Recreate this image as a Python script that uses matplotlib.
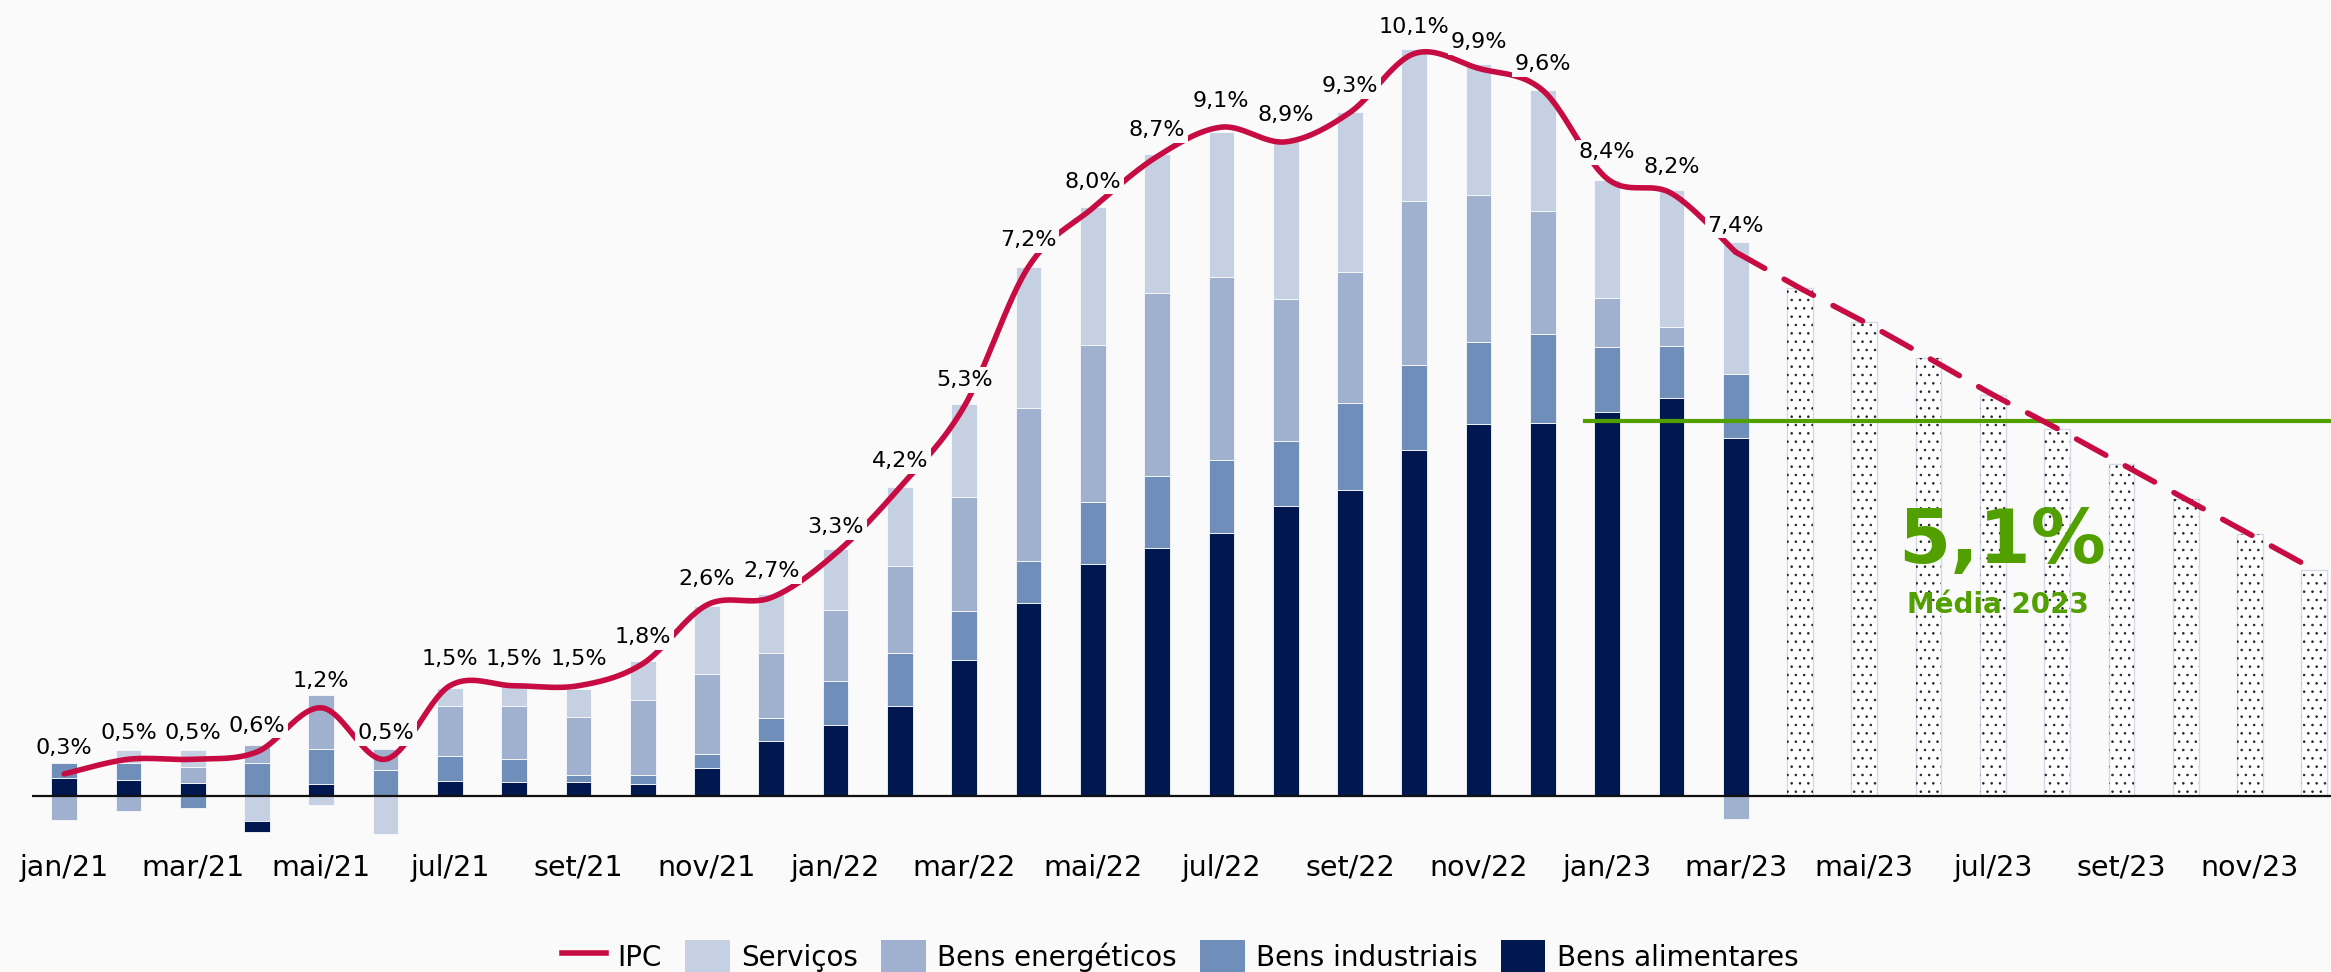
import numpy as np
import matplotlib
matplotlib.use("Agg")
import matplotlib.pyplot as plt
from matplotlib.patches import Patch
from matplotlib.lines import Line2D

# ---------------- data ----------------
month_names = ['jan', 'fev', 'mar', 'abr', 'mai', 'jun', 'jul', 'ago', 'set', 'out', 'nov', 'dez']
years = ['21', '22', '23']
periods = [f'{m}/{y}' for y in years for m in month_names]

# IPC, year-on-year rate (%), jan/21 .. mar/23
ipc = [0.3, 0.5, 0.5, 0.6, 1.2, 0.5, 1.5, 1.5, 1.5, 1.8, 2.6, 2.7,
       3.3, 4.2, 5.3, 7.2, 8.0, 8.7, 9.1, 8.9, 9.3, 10.1, 9.9, 9.6,
       8.4, 8.2, 7.4]

# contributions (p.p.)
alimentares = [0.25, 0.22, 0.18, -0.145, 0.17, 0.0, 0.20, 0.19, 0.19, 0.16, 0.38, 0.75,
               0.97, 1.22, 1.85, 2.62, 3.16, 3.38, 3.58, 3.94, 4.17, 4.71, 5.06, 5.08,
               5.23, 5.41, 4.87]
industriais = [0.20, 0.23, -0.17, 0.45, 0.47, 0.35, 0.34, 0.31, 0.09, 0.12, 0.19, 0.31,
               0.59, 0.73, 0.67, 0.58, 0.84, 0.97, 0.99, 0.89, 1.18, 1.15, 1.12, 1.21,
               0.88, 0.71, 0.87]
energeticos = [-0.33, -0.21, 0.22, 0.25, 0.73, 0.29, 0.68, 0.73, 0.80, 1.03, 1.09, 0.88,
               0.97, 1.18, 1.55, 2.08, 2.13, 2.49, 2.49, 1.93, 1.78, 2.23, 2.00, 1.67,
               0.66, 0.26, -0.31]
servicos = [0.0, 0.18, 0.23, -0.34, -0.12, -0.52, 0.245, 0.29, 0.38, 0.52, 0.93, 0.81,
            0.83, 1.07, 1.26, 1.92, 1.88, 1.90, 1.98, 2.18, 2.17, 2.08, 1.78, 1.64,
            1.61, 1.87, 1.80]

# projection abr/23 .. dez/23
forecast = [6.91, 6.45, 5.96, 5.46, 5.00, 4.52, 4.04, 3.56, 3.08]

media_2023 = 5.1
media_label = '5,1%'
media_sub = 'Média 2023'

legend_labels = ['IPC', 'Serviços', 'Bens energéticos', 'Bens industriais', 'Bens alimentares']

# ---------------- style ----------------
BG = '#FAFAFA'
C_SERV = '#C5D0E3'
C_ENE = '#9FB1CF'
C_IND = '#6F8EBA'
C_ALIM = '#001850'
RED = '#C60C42'
GREEN = '#52A000'

plt.rcParams['font.family'] = ['DejaVu Sans']
plt.rcParams['hatch.linewidth'] = 0.6

W, H = 2331, 972
fig = plt.figure(figsize=(W / 100, H / 100), dpi=100, facecolor=BG)
ax = fig.add_axes([32 / W, 132 / H, (W - 32) / W, 840 / H], facecolor=BG)

PX_PER_UNIT = 73.5
ax.set_xlim(-0.5, 35.26)
ax.set_ylim(-44 / PX_PER_UNIT, 796 / PX_PER_UNIT)

n = len(ipc)
x_hist = np.arange(n)
bw = 0.4

comps = [(alimentares, C_ALIM), (industriais, C_IND), (energeticos, C_ENE), (servicos, C_SERV)]
pos_bottom = np.zeros(n)
for vals, col in comps:
    v = np.array(vals, dtype=float)
    pos = np.where(v > 0, v, 0.0)
    m = pos > 0
    ax.bar(x_hist[m], pos[m], width=bw, bottom=pos_bottom[m], color=col,
           edgecolor=BG, linewidth=0.6, zorder=2)
    pos_bottom += pos
neg_bottom = np.zeros(n)
for vals, col in reversed(comps):
    v = np.array(vals, dtype=float)
    neg = np.where(v < 0, v, 0.0)
    m = neg < 0
    ax.bar(x_hist[m], neg[m], width=bw, bottom=neg_bottom[m], color=col,
           edgecolor=BG, linewidth=0.6, zorder=2)
    neg_bottom += neg

# projection bars (dotted)
x_fc = np.arange(n, n + len(forecast))
ax.bar(x_fc, forecast, width=bw, color='white', edgecolor='#D3D9E6', linewidth=1.0, zorder=2)
ax.bar(x_fc, forecast, width=bw, fill=False, hatch='..', edgecolor='#222222', linewidth=0, zorder=2)

ax.axhline(0, color='#111111', lw=1.6, zorder=3)


def smooth(xs, ys, k=30):
    P = np.column_stack([xs, ys]).astype(float)
    out = [P[0]]
    t = np.linspace(0, 1, k)[1:, None]
    for i in range(len(P) - 1):
        p0 = P[i - 1] if i > 0 else P[i]
        p1, p2 = P[i], P[i + 1]
        p3 = P[i + 2] if i + 2 < len(P) else P[i + 1]
        c1 = p1 + (p2 - p0) / 6.0
        c2 = p2 - (p3 - p1) / 6.0
        seg = (1 - t) ** 3 * p1 + 3 * (1 - t) ** 2 * t * c1 + 3 * (1 - t) * t ** 2 * c2 + t ** 3 * p2
        out.extend(seg)
    return np.array(out)


sm = smooth(x_hist, ipc)
ax.plot(sm[:, 0], sm[:, 1], color=RED, lw=4, solid_capstyle='round', zorder=4)

fx = np.concatenate([[x_hist[-1]], x_fc])
fy = np.concatenate([[ipc[-1]], forecast])
sf = smooth(fx, fy)
ax.plot(sf[:, 0], sf[:, 1], color=RED, lw=4, linestyle=(0, (6, 4)),
        dash_capstyle='round', zorder=4)

# media line
x_start = periods.index('jan/23') - 0.35
ax.plot([x_start, 36], [media_2023, media_2023], color=GREEN, lw=3, zorder=3, clip_on=True)
ax.text(30.14, 3.17, media_label, color=GREEN, fontsize=54, fontweight='bold',
        ha='center', va='baseline', zorder=5)
ax.text(30.08, 2.49, media_sub, color=GREEN, fontsize=20, fontweight='bold',
        ha='center', va='baseline', zorder=5)

# data labels
for i, v in enumerate(ipc):
    lbl = f'{v:.1f}'.replace('.', ',') + '%'
    ax.annotate(lbl, (i, v), xytext=(0, 19), textcoords='offset points',
                ha='center', va='center', fontsize=16, color='black', zorder=6,
                bbox=dict(boxstyle='square,pad=0.12', fc=BG, ec='none'))

ax.set_xticks(np.arange(0, 36, 2))
ax.set_xticklabels(periods[::2], fontsize=20.5)
ax.tick_params(axis='x', length=0, pad=10)
ax.set_yticks([])
for s in ax.spines.values():
    s.set_visible(False)

handles = [Line2D([], [], color=RED, lw=4),
           Patch(facecolor=C_SERV), Patch(facecolor=C_ENE),
           Patch(facecolor=C_IND), Patch(facecolor=C_ALIM)]
fig.legend(handles, legend_labels, loc='center', bbox_to_anchor=(1180 / W, 15 / H),
           ncol=5, frameon=False, fontsize=20, handlelength=1.6, handleheight=1.55,
           handletextpad=0.4, columnspacing=0.85, borderpad=0, borderaxespad=0)

fig.savefig('out.png', dpi=100, facecolor=BG)
